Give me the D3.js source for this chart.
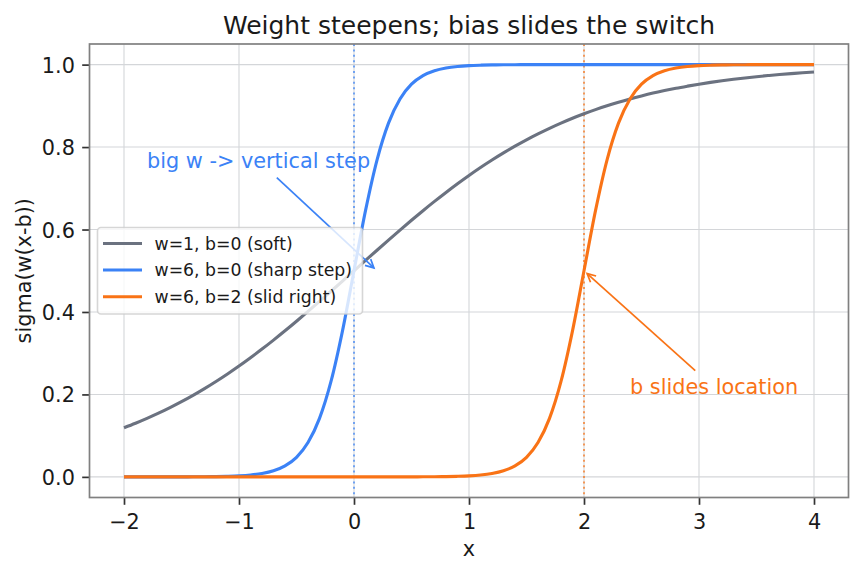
<!DOCTYPE html>
<html>
<head>
<meta charset="utf-8">
<script src="https://cdn.jsdelivr.net/npm/d3@7"></script>
<style>
  html, body { margin: 0; padding: 0; background: #ffffff; }
  svg { display: block; }
  text { font-family: "DejaVu Sans", sans-serif; }
</style>
</head>
<body>
<svg id="chart" width="862" height="573"></svg>
<script>
// ---------------- data ----------------
const xs = [-2.0,-1.9,-1.8,-1.7,-1.6,-1.5,-1.4,-1.3,-1.2,-1.1,-1.0,-0.9,-0.8,-0.7,-0.6,-0.5,-0.4,-0.3,-0.2,-0.1,
  0.0,0.1,0.2,0.3,0.4,0.5,0.6,0.7,0.8,0.9,1.0,1.1,1.2,1.3,1.4,1.5,1.6,1.7,1.8,1.9,
  2.0,2.1,2.2,2.3,2.4,2.5,2.6,2.7,2.8,2.9,3.0,3.1,3.2,3.3,3.4,3.5,3.6,3.7,3.8,3.9,4.0];

const softValues = [0.1192,0.1301,0.1419,0.1545,0.1680,0.1824,0.1978,0.2142,0.2315,0.2497,
  0.2689,0.2891,0.3100,0.3318,0.3543,0.3775,0.4013,0.4256,0.4502,0.4750,
  0.5000,0.5250,0.5498,0.5744,0.5987,0.6225,0.6457,0.6682,0.6900,0.7110,
  0.7311,0.7503,0.7685,0.7858,0.8022,0.8176,0.8320,0.8455,0.8581,0.8699,
  0.8808,0.8909,0.9003,0.9089,0.9168,0.9241,0.9309,0.9370,0.9427,0.9478,
  0.9526,0.9569,0.9608,0.9644,0.9677,0.9707,0.9734,0.9759,0.9781,0.9802,0.9820];

const sharpValues = [0.0000,0.0000,0.0000,0.0000,0.0001,0.0001,0.0002,0.0004,0.0007,0.0014,
  0.0025,0.0045,0.0082,0.0148,0.0266,0.0474,0.0832,0.1419,0.2315,0.3543,
  0.5000,0.6457,0.7685,0.8581,0.9168,0.9526,0.9734,0.9852,0.9918,0.9955,
  0.9975,0.9986,0.9993,0.9996,0.9998,0.9999,0.9999,1.0000,1.0000,1.0000,
  1.0000,1.0000,1.0000,1.0000,1.0000,1.0000,1.0000,1.0000,1.0000,1.0000,
  1.0000,1.0000,1.0000,1.0000,1.0000,1.0000,1.0000,1.0000,1.0000,1.0000,1.0000];

const slidValues = [0.0000,0.0000,0.0000,0.0000,0.0000,0.0000,0.0000,0.0000,0.0000,0.0000,
  0.0000,0.0000,0.0000,0.0000,0.0000,0.0000,0.0000,0.0000,0.0000,0.0000,
  0.0000,0.0000,0.0000,0.0000,0.0001,0.0001,0.0002,0.0004,0.0007,0.0014,
  0.0025,0.0045,0.0082,0.0148,0.0266,0.0474,0.0832,0.1419,0.2315,0.3543,
  0.5000,0.6457,0.7685,0.8581,0.9168,0.9526,0.9734,0.9852,0.9918,0.9955,
  0.9975,0.9986,0.9993,0.9996,0.9998,0.9999,0.9999,1.0000,1.0000,1.0000,1.0000];

const seriesNames = ["w=1, b=0 (soft)", "w=6, b=0 (sharp step)", "w=6, b=2 (slid right)"];
const seriesColors = ["#6b7280", "#3b82f6", "#f97316"];
const seriesValues = [softValues, sharpValues, slidValues];

const xTicks = [-2, -1, 0, 1, 2, 3, 4];
const yTicks = [0.0, 0.2, 0.4, 0.6, 0.8, 1.0];
const xDomain = [-2.3, 4.3];
const yDomain = [-0.05, 1.05];
const biasLines = [0, 2];          // dotted marker positions
const biasColors = ["#3b82f6", "#f97316"];

const titleText = "Weight steepens; bias slides the switch";
const xLabel = "x";
const yLabel = "sigma(w(x-b))";

const annotations = [
  { text: "big w -> vertical step", tx: -1.8, ty: 0.75, ax: 0.2, ay: 0.5, color: "#3b82f6" },
  { text: "b slides location", tx: 2.4, ty: 0.2, ax: 2.0, ay: 0.5, color: "#f97316" }
];

// ---------------- layout ----------------
const L = 89.5, R = 848.5, T = 44, B = 497.5;
const svg = d3.select("#chart");
const x = d3.scaleLinear().domain(xDomain).range([L, R]);
const y = d3.scaleLinear().domain(yDomain).range([B, T]);

// grid
const grid = svg.append("g");
grid.selectAll("line.gx").data(xTicks).enter().append("line")
  .attr("x1", d => x(d)).attr("x2", d => x(d)).attr("y1", T).attr("y2", B)
  .attr("stroke", "#d4d6d9").attr("stroke-width", 1.1);
grid.selectAll("line.gy").data(yTicks).enter().append("line")
  .attr("y1", d => y(d)).attr("y2", d => y(d)).attr("x1", L).attr("x2", R)
  .attr("stroke", "#d4d6d9").attr("stroke-width", 1.1);

// dotted vertical lines
svg.append("g").selectAll("line").data(biasLines).enter().append("line")
  .attr("x1", d => x(d)).attr("x2", d => x(d)).attr("y1", T).attr("y2", B)
  .attr("stroke", (d, i) => biasColors[i]).attr("stroke-width", 1.6)
  .attr("stroke-dasharray", "2,3.4").attr("opacity", 0.85);

// curves
const line = d3.line().x((d, i) => x(xs[i])).y(d => y(d)).curve(d3.curveMonotoneX);
const curves = svg.append("g").attr("clip-path", null);
seriesValues.forEach((vals, k) => {
  curves.append("path").datum(vals)
    .attr("d", line).attr("fill", "none")
    .attr("stroke", seriesColors[k]).attr("stroke-width", 3.1)
    .attr("stroke-linejoin", "round").attr("stroke-linecap", "butt");
});

// axes
const xAxis = d3.axisBottom(x).tickValues(xTicks).tickSize(7.3).tickPadding(7)
  .tickFormat(d => d < 0 ? "\u2212" + Math.abs(d) : String(d));
const yAxis = d3.axisLeft(y).tickValues(yTicks).tickSize(7.3).tickPadding(7.3)
  .tickFormat(d3.format(".1f"));

const gx = svg.append("g").attr("transform", `translate(0,${B})`).call(xAxis);
const gy = svg.append("g").attr("transform", `translate(${L},0)`).call(yAxis);
[gx, gy].forEach(g => {
  g.select(".domain").remove();
  g.selectAll(".tick line").attr("stroke", "#333333").attr("stroke-width", 1.7);
  g.selectAll(".tick text").attr("fill", "#1a1a1a").attr("font-size", "20.8px")
    .attr("font-family", "DejaVu Sans, sans-serif");
});
gx.selectAll(".tick text").attr("dy", null).attr("y", 31);
gy.selectAll(".tick text").attr("dy", "0.36em");

// spines
svg.append("rect").attr("x", L).attr("y", T).attr("width", R - L).attr("height", B - T)
  .attr("fill", "none").attr("stroke", "#808080").attr("stroke-width", 1.7);

// title and labels
svg.append("text").attr("x", (L + R) / 2).attr("y", 34).attr("text-anchor", "middle")
  .attr("font-size", "25px").attr("fill", "#1a1a1a").text(titleText);
svg.append("text").attr("x", (L + R) / 2).attr("y", 556).attr("text-anchor", "middle")
  .attr("font-size", "20.8px").attr("fill", "#1a1a1a").text(xLabel);
svg.append("text").attr("transform", `translate(30.5,${(T + B) / 2}) rotate(-90)`)
  .attr("text-anchor", "middle").attr("font-size", "20.8px").attr("fill", "#1a1a1a").text(yLabel);

// annotations
const ann = svg.append("g");
annotations.forEach(a => {
  const t = ann.append("text").attr("x", x(a.tx)).attr("y", y(a.ty))
    .attr("font-size", "20.8px").attr("fill", a.color).text(a.text);
  const bb = t.node().getBBox();
  const pad = 2.1;
  const bx0 = bb.x - pad, bx1 = bb.x + bb.width + pad, by0 = bb.y - pad, by1 = bb.y + bb.height + pad;
  const cx = bb.x + bb.width / 2, cy = bb.y + bb.height / 2;
  const txp = x(a.ax), typ = y(a.ay);
  const dx = txp - cx, dy = typ - cy;
  const len = Math.hypot(dx, dy);
  const ux = dx / len, uy = dy / len;
  // exit parameter from bbox
  let tExit = Infinity;
  if (ux > 0) tExit = Math.min(tExit, (bx1 - cx) / ux);
  if (ux < 0) tExit = Math.min(tExit, (bx0 - cx) / ux);
  if (uy > 0) tExit = Math.min(tExit, (by1 - cy) / uy);
  if (uy < 0) tExit = Math.min(tExit, (by0 - cy) / uy);
  const shrink = 4.2;
  const sx = cx + ux * (tExit + shrink), sy = cy + uy * (tExit + shrink);
  const ex = txp - ux * shrink, ey = typ - uy * shrink;
  const hl = 8.3, hw = 4.2;
  const px = -uy, py = ux;
  const bxh = ex - ux * hl, byh = ey - uy * hl;
  ann.append("path")
    .attr("d", `M${sx},${sy}L${ex},${ey}`)
    .attr("stroke", a.color).attr("stroke-width", 1.7).attr("fill", "none");
  ann.append("path")
    .attr("d", `M${bxh + px * hw},${byh + py * hw}L${ex},${ey}L${bxh - px * hw},${byh - py * hw}`)
    .attr("stroke", a.color).attr("stroke-width", 1.7).attr("fill", "none")
    .attr("stroke-linejoin", "miter");
});

// legend
const lg = svg.append("g");
const lgX = 97.5, lgY = 227.5, lgW = 265, lgH = 86.5;
lg.append("rect").attr("x", lgX).attr("y", lgY).attr("width", lgW).attr("height", lgH)
  .attr("rx", 3.5).attr("ry", 3.5)
  .attr("fill", "#ffffff").attr("fill-opacity", 0.8)
  .attr("stroke", "#cccccc").attr("stroke-opacity", 0.8).attr("stroke-width", 1.6);
const rowY = [243.5, 270, 296.7];
seriesNames.forEach((name, i) => {
  lg.append("line").attr("x1", 103).attr("x2", 142).attr("y1", rowY[i]).attr("y2", rowY[i])
    .attr("stroke", seriesColors[i]).attr("stroke-width", 3.1);
  lg.append("text").attr("x", 154.5).attr("y", rowY[i]).attr("dy", "0.36em")
    .attr("font-size", "17.3px").attr("fill", "#1a1a1a").text(name);
});
</script>
</body>
</html>
